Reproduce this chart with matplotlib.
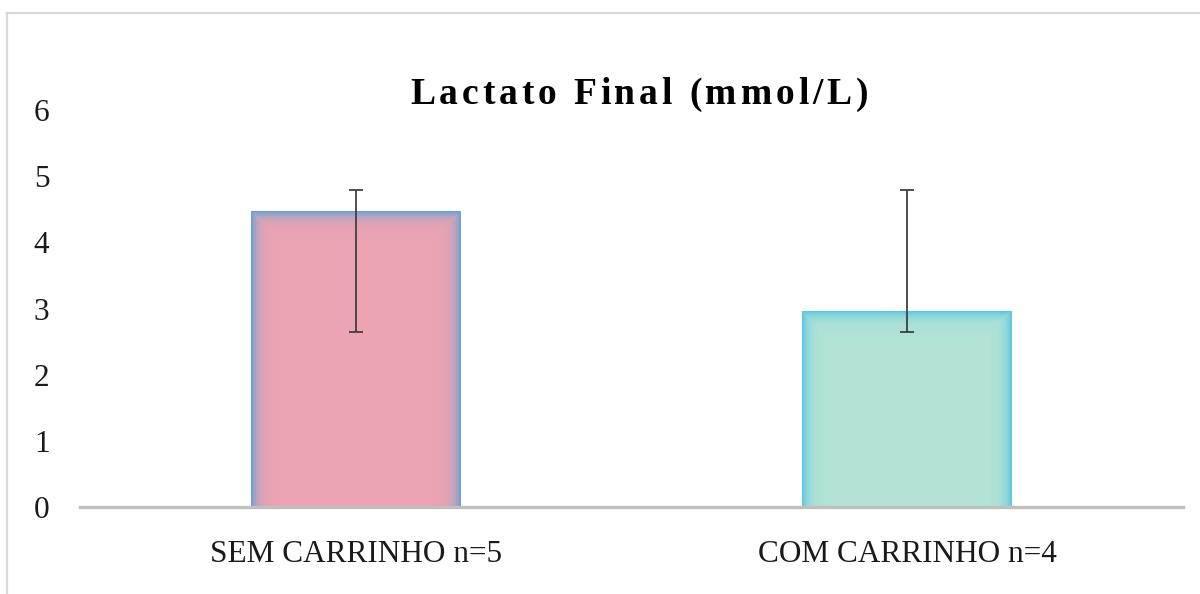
import numpy as np
import matplotlib
matplotlib.use("Agg")
import matplotlib.pyplot as plt
from matplotlib.colors import to_rgb
from matplotlib.lines import Line2D
from matplotlib.font_manager import FontProperties

# ---- data ----
categories = ["SEM CARRINHO n=5", "COM CARRINHO n=4"]
means = [4.47, 2.95]
err_minus = [1.83, 0.30]
err_plus = [0.32, 1.84]
yticks = [0, 1, 2, 3, 4, 5, 6]
title = "Lactato Final (mmol/L)"

inner_colors = ["#EDA4B2", "#B2E3D5"]
edge_colors = ["#5FA2D8", "#56C4E2"]

W, H, DPI = 1200, 594, 100
fig = plt.figure(figsize=(W / DPI, H / DPI), dpi=DPI)
plt.rcParams['font.family'] = ['Liberation Serif', 'DejaVu Serif']

# outer frame (partial, like the cropped Excel chart border)
fig.add_artist(Line2D([7 / W, 7 / W], [0, 1 - 13 / H], color="#D9D9D9", lw=1.6,
                      transform=fig.transFigure))
fig.add_artist(Line2D([7 / W, 1], [1 - 13 / H, 1 - 13 / H], color="#D9D9D9", lw=1.6,
                      transform=fig.transFigure))

left, right = 80 / W, 1183 / W
bottom, top = 1 - 507 / H, 1 - 110 / H
ax = fig.add_axes([left, bottom, right - left, top - bottom])

x = np.arange(len(categories))
bar_w = 0.38
bars = ax.bar(x, means, width=bar_w, color=inner_colors, edgecolor="none", zorder=2)

ax.set_xlim(-0.5, len(categories) - 0.5)
ax.set_ylim(0, 6)
ax.set_yticks(yticks)
ax.set_yticklabels([str(t) for t in yticks])
ax.set_xticks(x)
ax.set_xticklabels(categories)
for s in ["top", "right", "left"]:
    ax.spines[s].set_visible(False)
ax.spines["bottom"].set_color("#BFBFBF")
ax.spines["bottom"].set_linewidth(2.4)
ax.spines["bottom"].set_zorder(5)
ax.tick_params(axis="y", length=0, pad=22, labelsize=22.5, labelcolor="#1a1a1a")
ax.tick_params(axis="x", length=0, pad=24, labelsize=22.5, labelcolor="#1a1a1a")

# gradient glow on bar edges
fig.canvas.draw()
for b, ci, ce in zip(bars, inner_colors, edge_colors):
    x0, y0 = b.get_x(), b.get_y()
    x1, y1 = x0 + b.get_width(), y0 + b.get_height()
    p0 = ax.transData.transform((x0, y0))
    p1 = ax.transData.transform((x1, y1))
    pw, ph = int(round(p1[0] - p0[0])), int(round(p1[1] - p0[1]))
    xx = np.arange(pw) + 0.5
    yy = np.arange(ph) + 0.5  # from top
    dx = np.minimum(xx, pw - xx)[None, :]
    dy = yy[:, None]
    d = np.minimum(dx, dy)
    t = np.exp(-d / 6.0)
    a = np.array(to_rgb(ci))
    e = np.array(to_rgb(ce))
    img = a[None, None, :] * (1 - t[..., None]) + e[None, None, :] * t[..., None]
    ax.imshow(img, extent=(x0, x1, y0, y1), origin="upper", aspect="auto",
              interpolation="bilinear", zorder=3)
ax.set_xlim(-0.5, len(categories) - 0.5)
ax.set_ylim(0, 6)

ax.errorbar(x, means, yerr=[err_minus, err_plus], fmt="none", ecolor="#404040",
            elinewidth=1.3, capsize=5, capthick=1.3, zorder=4)

# title with wide letter spacing
renderer = fig.canvas.get_renderer()
fp = FontProperties(family="Liberation Serif", weight="bold", size=27)
widths = [renderer.get_text_width_height_descent(c, fp, ismath=False)[0] for c in title]
target_w = 458.0
track = (target_w - sum(widths)) / (len(title) - 1)
cx = 639.0
xpos = cx - target_w / 2
ty = 1 - 95 / H
for c, w in zip(title, widths):
    fig.text(xpos / W, ty, c, fontproperties=fp, ha="left", va="center", color="#000000")
    xpos += w + track

fig.savefig("out.png", dpi=DPI, facecolor="white")
